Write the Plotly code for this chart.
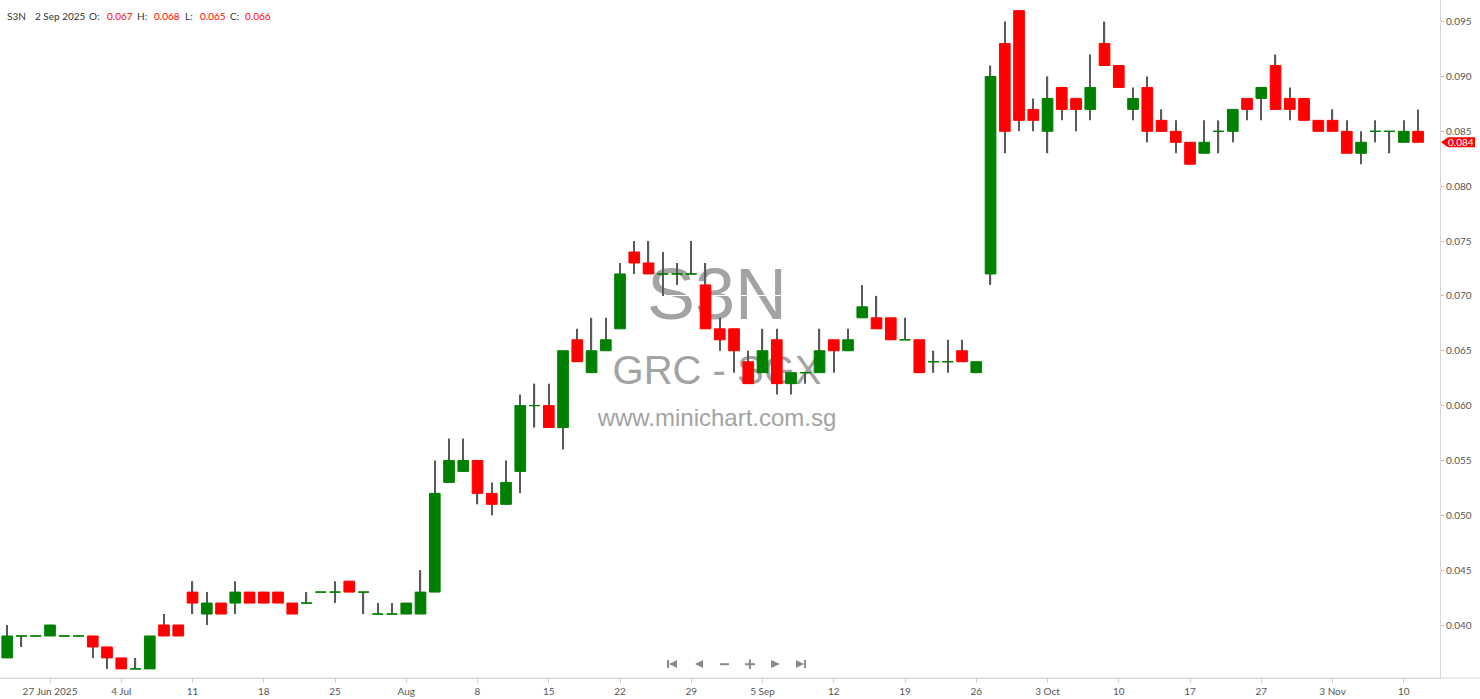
import plotly.graph_objects as go

# trading days shown (SGX, 20 Oct holiday skipped)
dates = [
    "2025-06-24", "2025-06-25", "2025-06-26", "2025-06-27", "2025-06-30",
    "2025-07-01", "2025-07-02", "2025-07-03", "2025-07-04",
    "2025-07-07", "2025-07-08", "2025-07-09", "2025-07-10", "2025-07-11",
    "2025-07-14", "2025-07-15", "2025-07-16", "2025-07-17", "2025-07-18",
    "2025-07-21", "2025-07-22", "2025-07-23", "2025-07-24", "2025-07-25",
    "2025-07-28", "2025-07-29", "2025-07-30", "2025-07-31", "2025-08-01",
    "2025-08-04", "2025-08-05", "2025-08-06", "2025-08-07", "2025-08-08",
    "2025-08-11", "2025-08-12", "2025-08-13", "2025-08-14", "2025-08-15",
    "2025-08-18", "2025-08-19", "2025-08-20", "2025-08-21", "2025-08-22",
    "2025-08-25", "2025-08-26", "2025-08-27", "2025-08-28", "2025-08-29",
    "2025-09-01", "2025-09-02", "2025-09-03", "2025-09-04", "2025-09-05",
    "2025-09-08", "2025-09-09", "2025-09-10", "2025-09-11", "2025-09-12",
    "2025-09-15", "2025-09-16", "2025-09-17", "2025-09-18", "2025-09-19",
    "2025-09-22", "2025-09-23", "2025-09-24", "2025-09-25", "2025-09-26",
    "2025-09-29", "2025-09-30", "2025-10-01", "2025-10-02", "2025-10-03",
    "2025-10-06", "2025-10-07", "2025-10-08", "2025-10-09", "2025-10-10",
    "2025-10-13", "2025-10-14", "2025-10-15", "2025-10-16", "2025-10-17",
    "2025-10-21", "2025-10-22", "2025-10-23", "2025-10-24",
    "2025-10-27", "2025-10-28", "2025-10-29", "2025-10-30", "2025-10-31",
    "2025-11-03", "2025-11-04", "2025-11-05", "2025-11-06", "2025-11-07",
    "2025-11-10", "2025-11-11",
]

opens = [
    0.037, 0.039, 0.039, 0.039, 0.039,
    0.039, 0.039, 0.038, 0.037,
    0.036, 0.036, 0.040, 0.040, 0.043,
    0.041, 0.042, 0.042, 0.043, 0.043,
    0.043, 0.042, 0.042, 0.043, 0.043,
    0.044, 0.043, 0.041, 0.041, 0.041,
    0.041, 0.043, 0.053, 0.054, 0.055,
    0.052, 0.051, 0.054, 0.060, 0.060,
    0.058, 0.066, 0.063, 0.065, 0.067,
    0.074, 0.073, 0.072, 0.072, 0.072,
    0.071, 0.067, 0.067, 0.064, 0.063,
    0.066, 0.062, 0.063, 0.063, 0.066,
    0.065, 0.068, 0.068, 0.068, 0.066,
    0.066, 0.064, 0.064, 0.065, 0.063,
    0.072, 0.093, 0.096, 0.087, 0.085,
    0.089, 0.088, 0.087, 0.093, 0.091,
    0.087, 0.089, 0.086, 0.085, 0.084,
    0.083, 0.085, 0.085, 0.088,
    0.088, 0.091, 0.088, 0.088, 0.086,
    0.086, 0.085, 0.083, 0.085, 0.085,
    0.084, 0.085,
]
highs = [
    0.040, 0.039, 0.039, 0.040, 0.039,
    0.039, 0.039, 0.038, 0.037,
    0.037, 0.039, 0.041, 0.040, 0.044,
    0.043, 0.042, 0.044, 0.043, 0.043,
    0.043, 0.042, 0.043, 0.043, 0.044,
    0.044, 0.043, 0.042, 0.042, 0.042,
    0.045, 0.055, 0.057, 0.057, 0.055,
    0.053, 0.055, 0.061, 0.062, 0.062,
    0.065, 0.067, 0.068, 0.068, 0.073,
    0.075, 0.075, 0.074, 0.073, 0.075,
    0.073, 0.068, 0.067, 0.065, 0.067,
    0.067, 0.063, 0.063, 0.067, 0.066,
    0.067, 0.071, 0.070, 0.068, 0.068,
    0.066, 0.065, 0.066, 0.066, 0.064,
    0.091, 0.095, 0.096, 0.088, 0.090,
    0.089, 0.088, 0.092, 0.095, 0.091,
    0.089, 0.090, 0.087, 0.086, 0.084,
    0.086, 0.086, 0.087, 0.088,
    0.089, 0.092, 0.089, 0.088, 0.086,
    0.087, 0.086, 0.085, 0.086, 0.085,
    0.086, 0.087,
]
lows = [
    0.037, 0.038, 0.039, 0.039, 0.039,
    0.039, 0.037, 0.036, 0.036,
    0.036, 0.036, 0.039, 0.039, 0.041,
    0.040, 0.041, 0.041, 0.042, 0.042,
    0.042, 0.041, 0.042, 0.043, 0.042,
    0.043, 0.041, 0.041, 0.041, 0.041,
    0.041, 0.043, 0.053, 0.054, 0.051,
    0.050, 0.051, 0.052, 0.058, 0.058,
    0.056, 0.064, 0.063, 0.065, 0.067,
    0.072, 0.072, 0.070, 0.071, 0.072,
    0.067, 0.065, 0.063, 0.062, 0.063,
    0.061, 0.061, 0.062, 0.063, 0.063,
    0.065, 0.068, 0.067, 0.066, 0.066,
    0.063, 0.063, 0.063, 0.064, 0.063,
    0.071, 0.083, 0.085, 0.085, 0.083,
    0.086, 0.085, 0.086, 0.091, 0.089,
    0.086, 0.084, 0.085, 0.083, 0.082,
    0.083, 0.083, 0.084, 0.086,
    0.086, 0.087, 0.086, 0.086, 0.085,
    0.085, 0.083, 0.082, 0.084, 0.083,
    0.084, 0.084,
]
closes = [
    0.039, 0.039, 0.039, 0.040, 0.039,
    0.039, 0.038, 0.037, 0.036,
    0.036, 0.039, 0.039, 0.039, 0.042,
    0.042, 0.041, 0.043, 0.042, 0.042,
    0.042, 0.041, 0.042, 0.043, 0.043,
    0.043, 0.043, 0.041, 0.041, 0.042,
    0.043, 0.052, 0.055, 0.055, 0.052,
    0.051, 0.053, 0.060, 0.060, 0.058,
    0.065, 0.064, 0.065, 0.066, 0.072,
    0.073, 0.072, 0.072, 0.072, 0.072,
    0.067, 0.066, 0.065, 0.062, 0.065,
    0.062, 0.063, 0.063, 0.065, 0.065,
    0.066, 0.069, 0.067, 0.066, 0.066,
    0.063, 0.064, 0.064, 0.064, 0.064,
    0.090, 0.085, 0.086, 0.086, 0.088,
    0.087, 0.087, 0.089, 0.091, 0.089,
    0.088, 0.085, 0.085, 0.084, 0.082,
    0.084, 0.085, 0.087, 0.087,
    0.089, 0.087, 0.087, 0.086, 0.085,
    0.085, 0.083, 0.084, 0.085, 0.085,
    0.085, 0.084,
]

tick_dates = ["2025-06-27", "2025-07-04", "2025-07-11", "2025-07-18", "2025-07-25",
              "2025-08-01", "2025-08-08", "2025-08-15", "2025-08-22", "2025-08-29",
              "2025-09-05", "2025-09-12", "2025-09-19", "2025-09-26", "2025-10-03",
              "2025-10-10", "2025-10-17", "2025-10-27", "2025-11-03", "2025-11-10"]
tick_labels = ["27 Jun 2025", "4 Jul", "11", "18", "25", "Aug", "8", "15", "22", "29",
               "5 Sep", "12", "19", "26", "3 Oct", "10", "17", "27", "3 Nov", "10"]
price_ticks = [0.040, 0.045, 0.050, 0.055, 0.060, 0.065, 0.070, 0.075, 0.080, 0.085, 0.090, 0.095]

header = [("S3N", "#333"), ("2 Sep 2025", "#333"), ("O:", "#333"), ("0.067", "red"),
          ("H:", "#333"), ("0.068", "red"), ("L:", "#333"), ("0.065", "red"),
          ("C:", "#333"), ("0.066", "red")]
header_x = [5, 33, 87, 105, 135, 152, 183, 198, 228, 243]

last_price = 0.084
GREEN = "#008000"
RED = "#ff0000"

W, H = 1480, 699
PW, PH = 1440, 678  # plot area in px


def px(x):
    return x / PW


def py(y):
    return (PH - y) / PH


up = [c >= o for o, c in zip(opens, closes)]


def pick(vals, want):
    return [v if u == want else None for v, u in zip(vals, up)]


body_hi = [max(o, c) for o, c in zip(opens, closes)]
body_lo = [min(o, c) for o, c in zip(opens, closes)]

fig = go.Figure()

# wicks (bars sit underneath the candle bodies)
fig.add_trace(go.Bar(x=dates, base=lows, y=[h - l for h, l in zip(highs, lows)],
                     width=0.09, marker=dict(color="#5a5a5a", line=dict(width=0)),
                     showlegend=False, hoverinfo="skip"))

for want, col in [(True, GREEN), (False, RED)]:
    fig.add_trace(go.Candlestick(
        x=dates, open=pick(opens, want), close=pick(closes, want),
        high=pick(body_hi, want), low=pick(body_lo, want),
        increasing=dict(line=dict(color=col, width=1), fillcolor=col),
        decreasing=dict(line=dict(color=col, width=1), fillcolor=col),
        showlegend=False, hoverinfo="skip"))

shapes = []
# watermark, drawn under the grid and candles
for txt, size, cy in [("S3N", 72, 287), ("GRC - SGX", 40, 366), ("www.minichart.com.sg", 24, 415)]:
    shapes.append(dict(type="rect", xref="paper", yref="paper",
                       x0=px(517), x1=px(917), y0=py(cy + 50), y1=py(cy - 50),
                       line=dict(width=0), fillcolor="rgba(0,0,0,0)", layer="below",
                       label=dict(text=txt, textposition="middle center",
                                  font=dict(family="Liberation Sans", size=size, color="#a3a3a3"))))

# bottom axis line running to the page edge
shapes.append(dict(type="line", xref="paper", yref="paper", x0=0, x1=W / PW, y0=0, y1=0,
                   line=dict(color="#d6d6d6", width=1)))

# last price tag
tip, box_l, box_r, hh = px(1441), px(1448), px(1475), 0.00045
shapes.append(dict(type="path", xref="paper", yref="y",
                   path=f"M {tip},{last_price} L {box_l},{last_price + hh} L {box_r},{last_price + hh} "
                        f"L {box_r},{last_price - hh} L {box_l},{last_price - hh} Z",
                   fillcolor=RED, line=dict(width=0), layer="above"))

# navigation icons
ic = "#8a8a8a"
yt, yb, ym = py(660), py(668), py(664)


def tri(x_tip, x_base):
    return f"M {px(x_tip)},{ym} L {px(x_base)},{yt} L {px(x_base)},{yb} Z"


nav_paths = [
    tri(669, 677), f"M {px(667)},{yt} L {px(669)},{yt} L {px(669)},{yb} L {px(667)},{yb} Z",
    tri(695, 703),
    f"M {px(720)},{py(663.2)} L {px(729)},{py(663.2)} L {px(729)},{py(665.2)} L {px(720)},{py(665.2)} Z",
    f"M {px(745)},{py(663.2)} L {px(755)},{py(663.2)} L {px(755)},{py(665.2)} L {px(745)},{py(665.2)} Z",
    f"M {px(749)},{py(659.5)} L {px(751)},{py(659.5)} L {px(751)},{py(669)} L {px(749)},{py(669)} Z",
    tri(780, 771),
    tri(804, 796), f"M {px(804)},{yt} L {px(806)},{yt} L {px(806)},{yb} L {px(804)},{yb} Z",
]
for p in nav_paths:
    shapes.append(dict(type="path", xref="paper", yref="paper", path=p,
                       fillcolor=ic, line=dict(width=0), layer="above"))

annotations = []
for (txt, col), x in zip(header, header_x):
    annotations.append(dict(text=txt, xref="paper", yref="paper", x=px(x), y=py(15.5),
                            xanchor="left", yanchor="middle", showarrow=False,
                            font=dict(family="Lato", size=10, color=col)))
annotations.append(dict(text=f"{last_price:.3f}", xref="paper", yref="y", x=px(1461.5), y=last_price,
                        xanchor="center", yanchor="middle", showarrow=False,
                        font=dict(family="Lato", size=10, color="white")))

fig.update_layout(
    width=W, height=H,
    margin=dict(l=0, r=W - PW, t=0, b=H - PH, pad=0),
    paper_bgcolor="white", plot_bgcolor="white",
    boxgap=0.25, boxgroupgap=0, boxmode="overlay",
    hovermode=False, showlegend=False,
    shapes=shapes, annotations=annotations,
    xaxis=dict(type="category", categoryorder="array", categoryarray=dates,
               range=[-0.51, 100.54], tickmode="array", tickvals=tick_dates, ticktext=tick_labels,
               ticks="outside", ticklen=4, tickcolor="#cfcfcf", showline=True, linecolor="#d6d6d6",
               showgrid=False, zeroline=False, rangeslider=dict(visible=False),
               tickfont=dict(family="Lato", size=10, color="#555")),
    yaxis=dict(side="right", range=[0.03517, 0.09697], tickmode="array", tickvals=price_ticks,
               tickformat=".3f", ticks="outside", ticklen=3, tickcolor="#bdbdbd",
               showline=True, linecolor="#d6d6d6", showgrid=True, gridcolor="white",
               zeroline=False, tickfont=dict(family="Lato", size=10, color="#555")),
)

# the page's default body margin would push the figure off the window
fig.write_html("out.html", config={"displayModeBar": False},
               post_script="document.body.style.margin='0';")
